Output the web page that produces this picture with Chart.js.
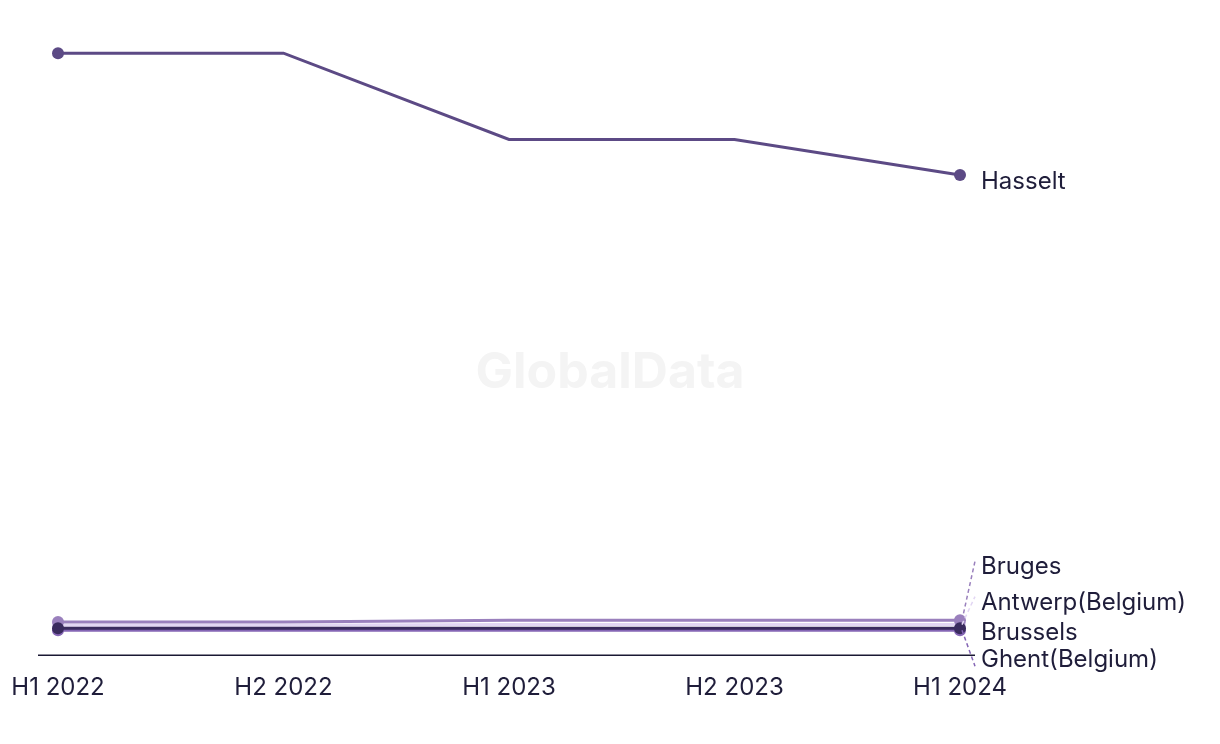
<!DOCTYPE html>
<html>
<head>
<meta charset="utf-8">
<script src="https://cdn.jsdelivr.net/npm/chart.js@4"></script>
<style>
  html, body { margin: 0; padding: 0; background: #fff; }
  #wrap { width: 1220px; height: 744px; position: relative; }
</style>
</head>
<body>
<div id="wrap"><canvas id="chart"></canvas></div>
<script>
// periods on the x axis
const periods = ["H1 2022", "H2 2022", "H1 2023", "H2 2023", "H1 2024"];

// series values
const hasselt = [96.3, 96.3, 82.5, 82.5, 76.8];
const bruges = [5.3, 5.3, 5.6, 5.6, 5.6];
const antwerp = [4.8, 4.8, 4.9, 4.9, 4.9];
const brussels = [4.3, 4.3, 4.3, 4.3, 4.3];
const ghent = [4.0, 4.0, 4.0, 4.0, 4.0];

// first dataset is drawn on top
const seriesNames = ["Brussels", "Bruges", "Antwerp(Belgium)", "Ghent(Belgium)", "Hasselt"];
const seriesData = [brussels, bruges, antwerp, ghent, hasselt];
const seriesColors = ["#3a2b5e", "#9a80bd", "#e2d6f3", "#8566b5", "#5c4a85"];

const endPoints = [6, 0, 0, 0, 6];
const textColor = "#1f1d3a";
const fontFamily = "Inter, 'Noto Sans', sans-serif";

// where each end label sits, relative to the last point (dy) and whether to draw a dashed leader
const labelPlacement = {
  "Hasselt": { dy: 7, leader: false },
  "Bruges": { dy: -53, leader: true },
  "Antwerp(Belgium)": { dy: -22, leader: true },
  "Brussels": { dy: 4, leader: false },
  "Ghent(Belgium)": { dy: 30, leader: true }
};

const endLabels = {
  id: "endLabels",
  afterDatasetsDraw(chart) {
    const ctx = chart.ctx;
    ctx.save();
    ctx.font = "24px " + fontFamily;
    ctx.textBaseline = "middle";
    ctx.textAlign = "left";
    chart.data.datasets.forEach((ds, i) => {
      const meta = chart.getDatasetMeta(i);
      const pt = meta.data[meta.data.length - 1];
      const place = labelPlacement[ds.label];
      const ty = pt.y + place.dy;
      const tx = pt.x + 21;
      if (place.leader) {
        ctx.strokeStyle = ds.borderColor;
        ctx.lineWidth = 1.5;
        ctx.setLineDash([4, 3]);
        ctx.beginPath();
        ctx.moveTo(pt.x + 2, pt.y);
        ctx.lineTo(pt.x + 15, ty - (place.dy < 0 ? 6 : -6));
        ctx.stroke();
        ctx.setLineDash([]);
      }
      ctx.fillStyle = textColor;
      ctx.fillText(ds.label, tx, ty);
    });
    ctx.restore();
  }
};

const baseline = {
  id: "baseline",
  beforeDatasetsDraw(chart) {
    const ctx = chart.ctx;
    const y = chart.scales.y.getPixelForValue(0);
    ctx.save();
    ctx.strokeStyle = "#1a1833";
    ctx.lineWidth = 1.5;
    ctx.beginPath();
    ctx.moveTo(chart.chartArea.left - 20, y);
    ctx.lineTo(chart.chartArea.right + 15, y);
    ctx.stroke();
    ctx.restore();
  }
};

const watermark = {
  id: "watermark",
  beforeDraw(chart) {
    const ctx = chart.ctx;
    ctx.save();
    ctx.font = "bold 50px Inter, 'Liberation Sans', sans-serif";
    ctx.fillStyle = "#f4f4f4";
    ctx.textAlign = "center";
    ctx.textBaseline = "middle";
    ctx.fillText("GlobalData", 610, 373);
    ctx.restore();
  }
};

const ctx = document.getElementById("chart").getContext("2d");
new Chart(ctx, {
  type: "line",
  data: {
    labels: periods,
    datasets: seriesNames.map((name, i) => ({
      label: name,
      data: seriesData[i],
      borderColor: seriesColors[i],
      backgroundColor: seriesColors[i],
      borderWidth: 3,
      pointRadius: endPoints,
      pointHoverRadius: endPoints,
      pointBorderWidth: 0,
      tension: 0,
      fill: false
    }))
  },
  options: {
    responsive: true,
    maintainAspectRatio: false,
    animation: false,
    layout: { padding: { left: 58, right: 260, top: 30, bottom: 24 } },
    plugins: {
      legend: { display: false },
      tooltip: { enabled: false }
    },
    scales: {
      x: {
        offset: false,
        grid: { display: false, drawTicks: false },
        border: { display: false },
        afterFit(scale) {
          // let the outer labels hang into the padding
          scale.paddingLeft = 0;
          scale.paddingRight = 0;
        },
        ticks: {
          padding: 18,
          color: textColor,
          font: { family: fontFamily, size: 24 },
          maxRotation: 0,
          autoSkip: false
        }
      },
      y: {
        display: false,
        min: 0,
        max: 100
      }
    }
  },
  plugins: [watermark, baseline, endLabels]
});
</script>
</body>
</html>
